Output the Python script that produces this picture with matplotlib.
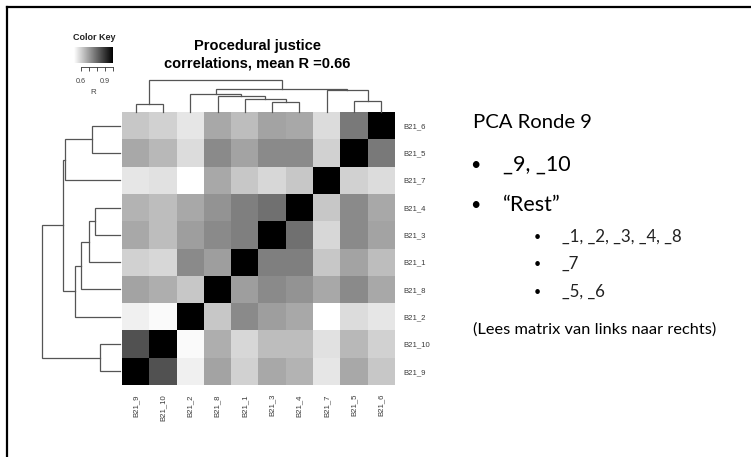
import numpy as np
import matplotlib
matplotlib.use("Agg")
import matplotlib.pyplot as plt
from matplotlib.colors import LinearSegmentedColormap

# ---------------- data ----------------
# variable order as displayed (columns left->right, rows bottom->top)
labels = ["B21_9", "B21_10", "B21_2", "B21_8", "B21_1",
          "B21_3", "B21_4", "B21_7", "B21_5", "B21_6"]

r_B21_9  = [1.00, 0.84, 0.53, 0.68, 0.59, 0.67, 0.65, 0.55, 0.67, 0.61]
r_B21_10 = [0.84, 1.00, 0.51, 0.66, 0.58, 0.63, 0.63, 0.56, 0.64, 0.59]
r_B21_2  = [0.53, 0.51, 1.00, 0.61, 0.73, 0.69, 0.67, 0.50, 0.57, 0.55]
r_B21_8  = [0.68, 0.66, 0.61, 1.00, 0.69, 0.73, 0.71, 0.67, 0.73, 0.67]
r_B21_1  = [0.59, 0.58, 0.73, 0.69, 1.00, 0.75, 0.75, 0.61, 0.68, 0.63]
r_B21_3  = [0.67, 0.63, 0.69, 0.73, 0.75, 1.00, 0.78, 0.58, 0.73, 0.68]
r_B21_4  = [0.65, 0.63, 0.67, 0.71, 0.75, 0.78, 1.00, 0.61, 0.73, 0.67]
r_B21_7  = [0.55, 0.56, 0.50, 0.67, 0.61, 0.58, 0.61, 1.00, 0.59, 0.57]
r_B21_5  = [0.67, 0.64, 0.57, 0.73, 0.68, 0.73, 0.73, 0.59, 1.00, 0.76]
r_B21_6  = [0.61, 0.59, 0.55, 0.67, 0.63, 0.68, 0.67, 0.57, 0.76, 1.00]

# hierarchical clustering (leaf indices refer to display order; new nodes 10, 11, ...)
merge_left    = [0, 5, 8, 4, 3, 2, 7, 15, 10]
merge_right   = [1, 6, 9, 11, 13, 14, 12, 16, 17]
merge_heights = [0.26, 0.315, 0.355, 0.40, 0.50, 0.57, 0.70, 0.725, 1.00]

key_ticks = [0.6, 0.7, 0.8, 0.9, 1.0]
key_tick_labels = ["0.6", "", "", "0.9", ""]

title_lines = ["Procedural justice", "correlations, mean R =0.66"]

# ---------------- figure ----------------
W, H = 751, 457
fig = plt.figure(figsize=(W / 100, H / 100), dpi=100)
fig.patch.set_facecolor("white")
HELV = ["Liberation Sans", "DejaVu Sans"]
SLIDE = ["Lato", "DejaVu Sans"]


def px_axes(x0, y0, x1, y1):
    return fig.add_axes([x0 / W, 1 - y1 / H, (x1 - x0) / W, (y1 - y0) / H])


def ftext(x, y, s, **kw):
    return fig.text(x / W, 1 - y / H, s, **kw)


corr = np.array([r_B21_9, r_B21_10, r_B21_2, r_B21_8, r_B21_1,
                 r_B21_3, r_B21_4, r_B21_7, r_B21_5, r_B21_6])
n = len(labels)
cmap = LinearSegmentedColormap.from_list("wk", ["#ffffff", "#000000"])
vmin, vmax = corr.min(), corr.max()

# slide frame (left and top border)
fig.add_artist(plt.Line2D([7 / W, 7 / W], [0, 1 - 7 / H], color="black", lw=1.6))
fig.add_artist(plt.Line2D([7 / W, 1], [1 - 7 / H, 1 - 7 / H], color="black", lw=1.6))

# heatmap
ax = px_axes(122, 112, 395, 385)
ax.imshow(corr, cmap=cmap, vmin=vmin, vmax=vmax, origin="lower",
          extent=(-0.5, n - 0.5, -0.5, n - 0.5), aspect="auto",
          interpolation="nearest")
ax.set_xlim(-0.5, n - 0.5)
ax.set_ylim(-0.5, n - 0.5)
for s in ax.spines.values():
    s.set_visible(False)
ax.yaxis.tick_right()
ax.set_yticks(range(n))
ax.set_yticklabels(labels, fontsize=5.6, color="#3a3a3a", family=HELV)
ax.set_xticks(range(n))
ax.set_xticklabels(labels, fontsize=5.6, color="#3a3a3a", family=HELV,
                   rotation=90, va="top", ha="center")
ax.tick_params(axis="y", length=0, pad=6)
ax.tick_params(axis="x", length=0, pad=6.5)

# dendrogram geometry
pos = {i: float(i) for i in range(n)}
hgt = {i: 0.0 for i in range(n)}
segments = []
for k, (a, b, h) in enumerate(zip(merge_left, merge_right, merge_heights)):
    node = n + k
    segments.append((pos[a], hgt[a], pos[b], hgt[b], h))
    pos[node] = (pos[a] + pos[b]) / 2
    hgt[node] = h

lc = "#555555"
lw = 0.9
# top dendrogram
axt = px_axes(122, 80, 395, 112)
for pa, ha, pb, hb, h in segments:
    axt.plot([pa, pa, pb, pb], [ha, h, h, hb], color=lc, lw=lw,
             solid_joinstyle="miter", clip_on=False)
axt.set_xlim(-0.5, n - 0.5)
axt.set_ylim(0, max(merge_heights))
axt.axis("off")

# left dendrogram
axl = px_axes(41.5, 112, 120, 385)
for pa, ha, pb, hb, h in segments:
    axl.plot([ha, h, h, hb], [pa, pa, pb, pb], color=lc, lw=lw,
             solid_joinstyle="miter", clip_on=False)
axl.set_ylim(-0.5, n - 0.5)
axl.set_xlim(max(merge_heights), 0)
axl.axis("off")

# colour key
axk = px_axes(73.5, 47, 112.5, 63)
grad = np.linspace(vmin, vmax, 256)[None, :]
axk.imshow(grad, cmap=cmap, vmin=vmin, vmax=vmax, aspect="auto",
           extent=(vmin, vmax, 0, 1))
axk.set_xlim(vmin, vmax)
axk.set_yticks([])
for s in ["top", "left", "right"]:
    axk.spines[s].set_visible(False)
axk.spines["bottom"].set_position(("outward", 3))
axk.spines["bottom"].set_bounds(key_ticks[0], key_ticks[-1])
axk.spines["bottom"].set_linewidth(0.6)
axk.spines["bottom"].set_color("#333333")
axk.set_xticks(key_ticks)
axk.set_xticklabels(key_tick_labels, fontsize=5.2, color="#444444", family=HELV)
axk.tick_params(axis="x", length=3, width=0.6, pad=5, color="#333333")
ftext(94, 38, "Color Key", fontsize=6.5, fontweight="bold", family=HELV,
      ha="center", va="center", color="#222222")
ftext(93, 92, "R", fontsize=5.8, family=HELV, ha="center", va="center",
      color="#444444")

# title
ftext(257, 46, title_lines[0], fontsize=10.5, fontweight="bold", family=HELV,
      ha="center", va="center")
ftext(257, 63, title_lines[1], fontsize=10.5, fontweight="bold", family=HELV,
      ha="center", va="center")

# slide text on the right
ftext(473, 122, "PCA Ronde 9", fontsize=14.6, family=SLIDE, ha="left", va="center")
ftext(475, 165, "\u2022", fontsize=13, family=SLIDE, ha="center", va="center")
ftext(503, 165, "_9, _10", fontsize=15.5, family=SLIDE, ha="left", va="center")
ftext(475, 205, "\u2022", fontsize=13, family=SLIDE, ha="center", va="center")
ftext(503, 205, "\u201cRest\u201d", fontsize=15.5, family=SLIDE, ha="left", va="center")
for yy, s in [(237, "_1, _2, _3, _4, _8"), (264, "_7"), (292, "_5, _6")]:
    ftext(537, yy, "\u2022", fontsize=9, family=SLIDE, ha="center", va="center")
    ftext(562, yy, s, fontsize=12.2, family=SLIDE, ha="left", va="center",
          color="#222222")
ftext(473, 330, "(Lees matrix van links naar rechts)", fontsize=11.8,
      family=SLIDE, ha="left", va="center")

fig.savefig("out.png", dpi=100, facecolor="white")
